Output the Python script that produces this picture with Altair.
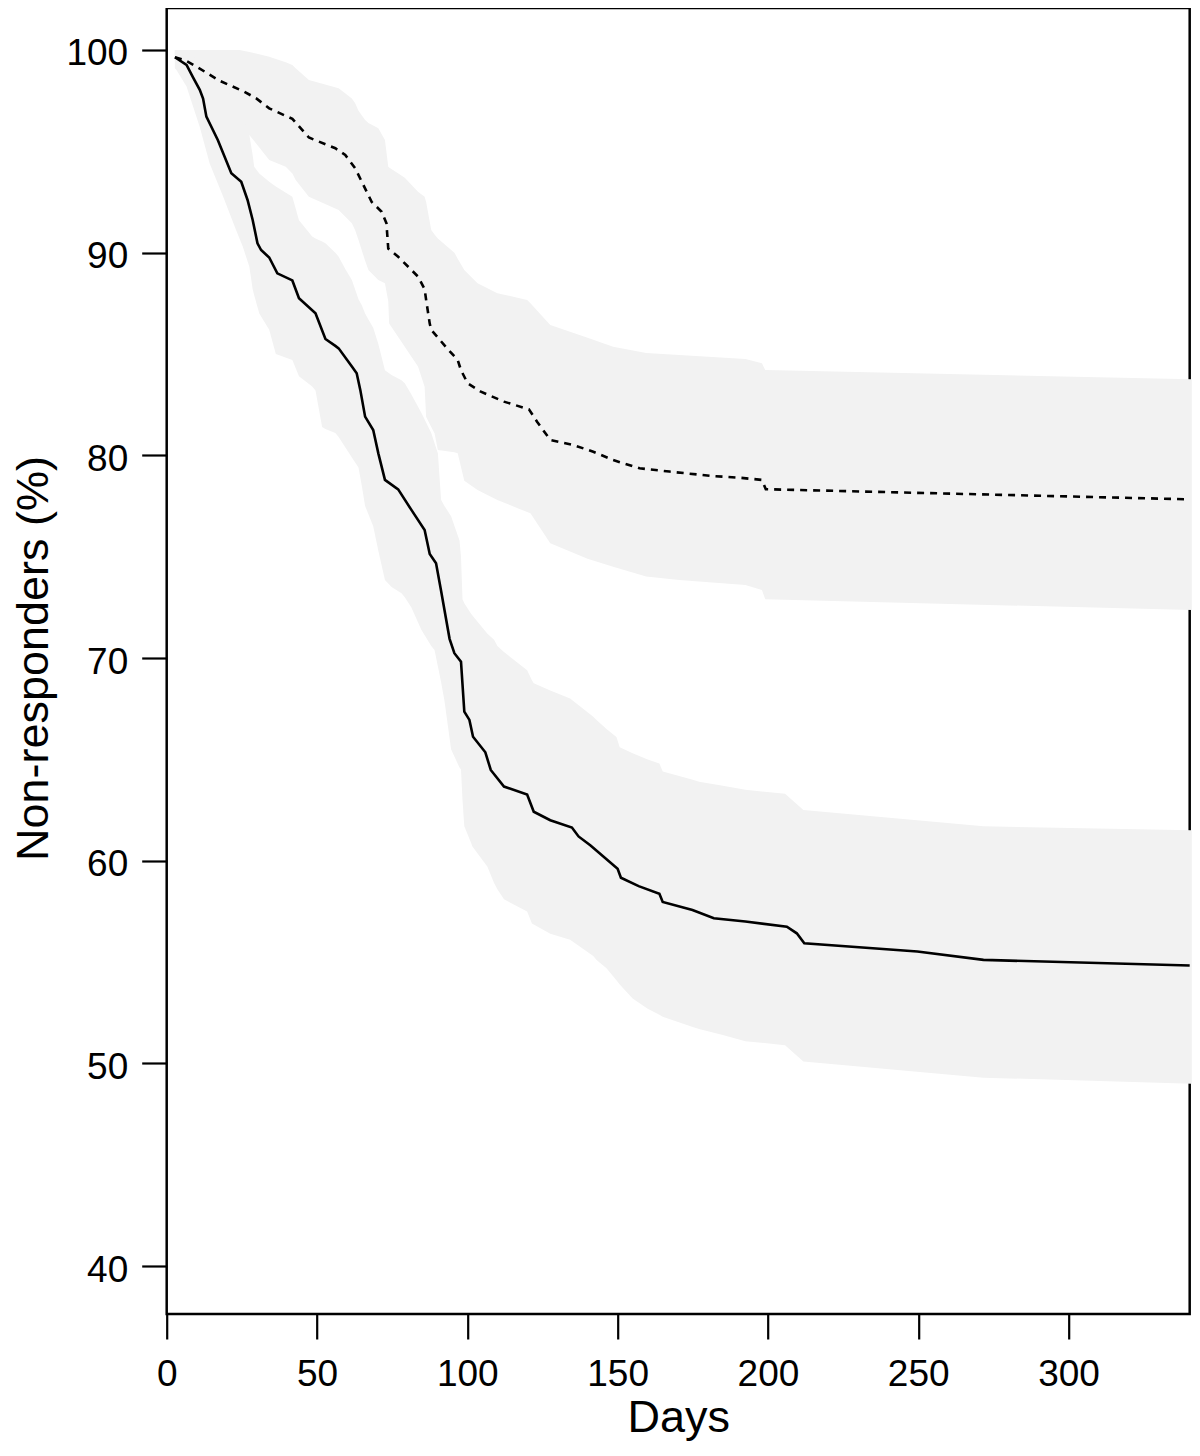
import altair as alt
import pandas as pd

# ---------------- data ----------------
# solid curve
solid_days = [2.74, 6.6, 8.8, 11.0, 12.1, 13.2, 17.0, 21.5, 24.8, 26.9, 28.6, 30.2, 31.4,
              34.1, 36.8, 41.8, 44.0, 49.5, 52.8, 56.1, 57.2, 61.6, 63.2, 64.4, 66.0, 68.7,
              70.4, 72.6, 77.0, 81.4, 85.8, 87.5, 89.6, 91.3, 94.1, 95.7, 97.9, 99.0, 100.7,
              101.9, 106.0, 107.8, 112.2, 119.9, 122.1, 127.6, 134.8, 137.0, 141.0, 150.0,
              151.1, 157.0, 163.9, 165.0, 174.9, 182.0, 192.5, 206.3, 209.6, 212.1, 249.7,
              271.7, 340.3]
solid_pct = [99.64, 99.26, 98.64, 98.03, 97.6, 96.71, 95.56, 93.92, 93.50, 92.60, 91.61, 90.46,
             90.13, 89.76, 88.98, 88.63, 87.75, 87.01, 85.74, 85.4, 85.28, 84.38, 84.05, 83.23,
             81.91, 81.25, 80.10, 78.79, 78.32, 77.31, 76.32, 75.13, 74.68, 73.3, 70.95, 70.24,
             69.82, 67.36, 66.95, 66.12, 65.35, 64.48, 63.66, 63.27, 62.42, 62.0, 61.64, 61.2,
             60.75, 59.6, 59.16, 58.75, 58.37, 57.97, 57.57, 57.16, 57.0, 56.75, 56.42, 55.93,
             55.52, 55.11, 54.83]

# dashed curve
dashed_days = [2.74, 6.0, 9.9, 17.6, 25.8, 29.7, 34.1, 41.8, 47.3, 56.1, 59.4, 62.7, 64.9,
               68.2, 71.5, 73.1, 73.7, 77.0, 83.6, 85.8, 86.3, 87.5, 88.0, 93.5, 96.8, 97.9,
               100.1, 104.5, 112.2, 120.5, 123.2, 127.6, 135.3, 141.9, 148.5, 157.3, 167.2,
               181.5, 190.3, 198.0, 199.3, 340.3]
dashed_pct = [99.64, 99.5, 99.18, 98.48, 97.94, 97.62, 97.12, 96.6, 95.68, 95.15, 94.82, 94.16,
              93.5, 92.5, 92.02, 91.45, 90.2, 89.8, 88.82, 88.2, 87.67, 86.5, 86.19, 85.24,
              84.71, 84.2, 83.56, 83.14, 82.65, 82.27, 81.66, 80.76, 80.51, 80.18, 79.77,
              79.36, 79.20, 78.98, 78.90, 78.79, 78.33, 77.83]

# confidence band of the solid curve
lowband_days = [2.7, 3.3, 6.6, 8.8, 11.0, 14.3, 18.7, 23.1, 25.3, 27.5, 28.6, 29.1, 30.8, 34.1,
                36.3, 41.8, 44.0, 48.4, 49.5, 51.7, 52.8, 56.1, 57.2, 59.4, 61.6, 63.8, 64.9,
                66.0, 67.1, 68.7, 70.4, 72.6, 74.8, 78.1, 79.2, 81.4, 84.7, 88.0, 89.1, 90.2,
                91.3, 92.4, 94.6, 97.4, 97.9, 98.4, 99.0, 101.2, 101.7, 106.7, 108.9, 110.0,
                112.2, 119.9, 121.5, 122.1, 127.6, 134.2, 141.9, 143.0, 146.3, 149.6, 150.7,
                155.0, 160.0, 163.9, 165.0, 175.0, 177.1, 185.0, 192.5, 205.7, 211.8, 271.7,
                341.0]
lowband_lo = [99.1, 99.0, 98.2, 97.2, 96.2, 94.4, 92.8, 91.1, 90.3, 89.3, 88.2, 87.9, 87.0, 86.2,
              85.0, 84.7, 83.9, 83.4, 83.2, 81.4, 81.3, 81.1, 80.9, 80.4, 79.9, 79.4, 78.5,
              77.5, 77.1, 76.5, 75.3, 73.85, 73.5, 73.2, 73.0, 72.5, 71.4, 70.6, 70.4, 69.6,
              68.8, 67.9, 65.5, 64.6, 64.5, 63.0, 61.7, 60.9, 60.7, 59.7, 58.9, 58.6, 58.1,
              57.5, 56.9, 56.85, 56.4, 56.1, 55.3, 55.1, 54.7, 54.1, 53.9, 53.2, 52.7, 52.4,
              52.3, 51.8, 51.7, 51.4, 51.1, 50.9, 50.1, 49.3, 49.0]
lowband_hi = [100.0, 100.0, 99.9, 99.7, 99.4, 99.0, 98.3, 97.4, 96.8, 95.8, 94.8, 94.24, 93.9,
              93.5, 93.26, 92.76, 91.6, 90.8, 90.7, 90.55, 90.46, 90.0, 89.8, 89.2, 88.65,
              87.7, 87.4, 87.0, 86.7, 86.3, 85.5, 84.2, 83.97, 83.7, 83.56, 83.0, 82.1, 81.1,
              80.6, 80.1, 77.8, 77.5, 77.0, 75.8, 75.0, 72.9, 72.7, 72.2, 72.1, 71.2, 70.9,
              70.6, 70.3, 69.4, 68.9, 68.76, 68.4, 68.0, 67.1, 66.95, 66.5, 66.1, 65.6, 65.3,
              65.0, 64.8, 64.4, 64.0, 63.9, 63.7, 63.5, 63.3, 62.5, 61.7, 61.5]

# confidence band of the dashed curve
upband_days = [2.7, 10.0, 20.0, 24.2, 27.5, 34.1, 39.6, 41.8, 42.9, 47.3, 57.2, 61.6, 62.7,
               63.8, 66.0, 67.1, 70.4, 72.6, 73.7, 74.0, 79.2, 83.6, 85.8, 86.3, 88.0, 89.1,
               90.2, 95.7, 96.8, 99.0, 103.4, 110.0, 119.9, 121.0, 127.6, 140.0, 148.5, 159.5,
               170.5, 192.5, 198.0, 199.1, 341.0]
upband_lo = [99.6, 98.6, 97.0, 96.4, 95.81, 94.57, 94.24, 93.9, 93.59, 92.76, 92.11, 91.45,
             91.1, 90.63, 89.6, 89.15, 88.65, 88.49, 87.6, 86.5, 85.36, 84.38, 83.39, 81.91,
             81.4, 81.09, 80.27, 80.15, 80.1, 78.75, 78.29, 77.8, 77.2, 77.14, 75.66, 74.9,
             74.5, 74.02, 73.85, 73.6, 73.36, 72.9, 72.37]
upband_hi = [100.0, 100.0, 100.0, 100.0, 99.9, 99.67, 99.4, 99.26, 99.1, 98.52, 98.11, 97.6,
             97.37, 97.0, 96.55, 96.4, 96.14, 95.56, 94.24, 94.2, 93.7, 93.0, 92.76, 92.5,
             91.12, 90.9, 90.7, 90.0, 89.7, 89.15, 88.49, 88.0, 87.67, 87.5, 86.43, 85.8,
             85.36, 85.05, 84.95, 84.75, 84.54, 84.21, 83.75]

x_ticks = [0, 50, 100, 150, 200, 250, 300]
y_ticks = [40, 50, 60, 70, 80, 90, 100]

# ---------------- chart ----------------
FONT = "Liberation Sans"
BAND = "#f2f2f2"

solid_df = pd.DataFrame({"day": solid_days, "pct": solid_pct})
dashed_df = pd.DataFrame({"day": dashed_days, "pct": dashed_pct})
low_df = pd.DataFrame({"day": lowband_days, "lo": lowband_lo, "hi": lowband_hi})
up_df = pd.DataFrame({"day": upband_days, "lo": upband_lo, "hi": upband_hi})

x_scale = alt.Scale(domain=[0, 340.3], nice=False, zero=False)
y_scale = alt.Scale(domain=[37.64, 102.07], nice=False, zero=False)

W, H = 1023, 1306
PAD = {"left": 158.7, "top": 0, "right": 2, "bottom": 128}

x_axis = alt.Axis(
    values=x_ticks, title="Days", grid=False, domain=False,
    tickSize=25, tickWidth=2.2, tickColor="black",
    labelFont=FONT, labelFontSize=37, labelColor="black", labelPadding=18,
    labelFlush=False, labelOverlap=False,
    titleFont=FONT, titleFontSize=45, titleFontWeight="normal", titleColor="black",
    titleX=W / 2, titleY=118, titleAlign="center", titleBaseline="alphabetic",
)
y_axis = alt.Axis(
    values=y_ticks, title="Non-responders (%)", grid=False, domain=False,
    tickSize=25, tickWidth=2.2, tickColor="black",
    labelFont=FONT, labelFontSize=37, labelColor="black", labelPadding=14,
    labelOffset=4, labelFlush=False, labelOverlap=False,
    titleFont=FONT, titleFontSize=45, titleFontWeight="normal", titleColor="black",
    titleX=-118.7, titleY=650, titleAngle=270, titleAlign="center",
    titleBaseline="alphabetic",
)

up_band = alt.Chart(up_df).mark_area(color=BAND, opacity=1).encode(
    x=alt.X("day:Q", scale=x_scale, axis=x_axis),
    y=alt.Y("hi:Q", scale=y_scale, axis=y_axis),
    y2="lo:Q",
)
low_band = alt.Chart(low_df).mark_area(color=BAND, opacity=1).encode(
    x=alt.X("day:Q", scale=x_scale),
    y=alt.Y("hi:Q", scale=y_scale),
    y2="lo:Q",
)
dashed_line = alt.Chart(dashed_df).mark_line(
    color="black", strokeWidth=2.6, strokeDash=[7, 6], strokeCap="butt"
).encode(
    x=alt.X("day:Q", scale=x_scale),
    y=alt.Y("pct:Q", scale=y_scale),
)
solid_line = alt.Chart(solid_df).mark_line(color="black", strokeWidth=2.6).encode(
    x=alt.X("day:Q", scale=x_scale),
    y=alt.Y("pct:Q", scale=y_scale),
)

chart = alt.layer(up_band, low_band, dashed_line, solid_line).properties(
    width=W, height=H,
    autosize=alt.AutoSizeParams(type="none"),
    padding=PAD,
    background="white",
).configure_view(stroke="black", strokeWidth=2.5)

chart.save("out.html", embed_options={"renderer": "svg", "actions": False})
